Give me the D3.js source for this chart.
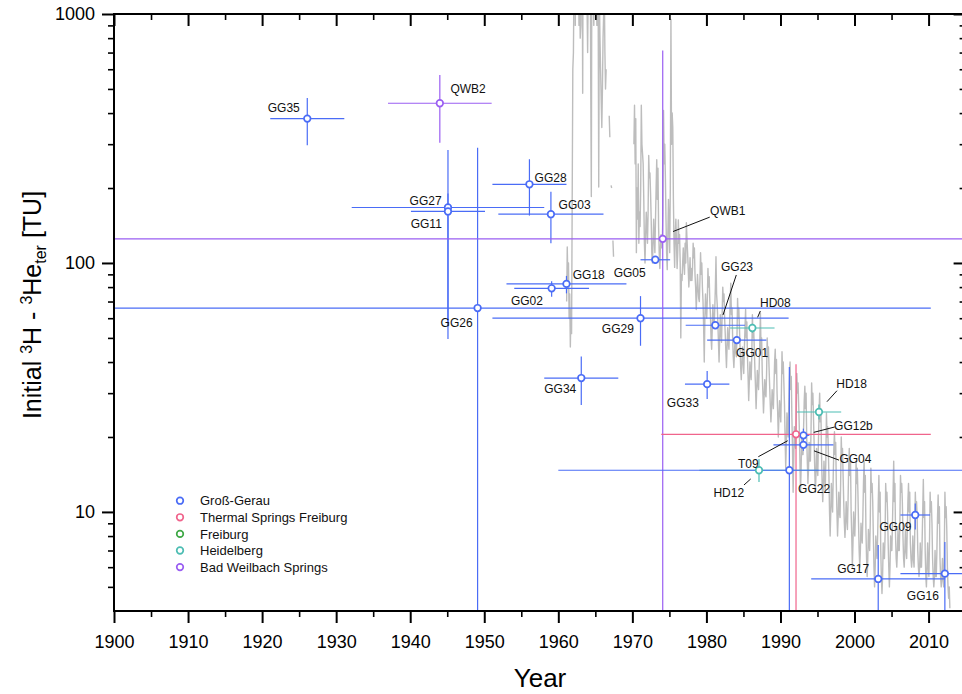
<!DOCTYPE html>
<html>
<head>
<meta charset="utf-8">
<script src="https://cdn.jsdelivr.net/npm/d3@7"></script>
<style>
  body { margin: 0; background: #fff; }
  svg { display: block; font-family: "Liberation Sans", Arial, Helvetica, sans-serif; }
  text { white-space: pre; }
</style>
</head>
<body>
<svg id="chart" width="962" height="694"></svg>
<script>
// ---- Groundwater samples: apparent year of recharge and initial tritium ----
const sampleNames  = ["GG35","QWB2","GG27","GG11","GG26","GG28","GG03","QWB1","GG05","GG18","GG02","GG29","GG34",
                      "GG23","HD08","GG01","GG33","HD18","GG12b","T09","GG04","HD12","GG22","GG09","GG17","GG16"];
const sampleGroups = [0,4,0,0,0,0,0,4,0,0,0,0,0,
                      0,3,0,0,3,0,1,0,3,0,0,0,0];
const sampleYears  = [1926.1,1944.0,1945.1,1945.1,1949.1,1956.1,1959.0,1974.1,1973.1,1961.1,1959.1,1971.1,1963.1,
                      1981.2,1986.2,1984.1,1980.1,1995.2,1993.1,1992.1,1993.1,1987.1,1991.2,2008.2,2003.2,2012.2];
const sampleValues = [380,438,167,161,65.9,207,157,125,103,82.4,79.1,60.0,34.5,
                      56.2,54.8,49.0,32.6,25.2,20.3,20.5,18.6,14.7,14.7,9.72,5.38,5.65];
// half-width of the age uncertainty (years)
const yearErrors   = [5,7,13,5,61.2,5,7.1,80,2,8.1,5.05,20,5,
                      4,3,4,3,3,0.8,18.2,4.05,8.05,31.2,2,9.05,6];
// lower / upper bound of the tritium uncertainty (TU)
const valueLow     = [297,304,49.5,56,1,155,120,1,99,75.5,73.2,46.5,26.9,
                      54.5,52.5,47.5,28.4,23.5,19.2,1,17.6,13.2,1,8.5,1,1];
const valueHigh    = [460,569,284,190,290,261,193,713,106.5,88.7,84.4,73.6,42.1,
                      58,57,50.6,36.8,27.0,21.6,39.2,19.6,16.3,38.2,10.8,7.37,7.58];

const groupNames  = ["Groß-Gerau","Thermal Springs Freiburg","Freiburg","Heidelberg","Bad Weilbach Springs"];
const groupColors = ["#4a6cf6","#f0648c","#3fa846","#4dbdb3","#9a5ef2"];

// ---- Tritium in precipitation: monthly values per year (TU), null = no record ----
const precipYears = [1961,1962,1963,1964,1965,1966,1967,1968,1969,1970,1971,1972,1973,1974,1975,1976,1977,1978,1979,
                     1980,1981,1982,1983,1984,1985,1986,1987,1988,1989,1990,1991,1992,1993,1994,1995,1996,1997,1998,
                     1999,2000,2001,2002,2003,2004,2005,2006,2007,2008,2009,2010,2011,2012];
const precipTritium = [
  [null,70,116,85,100,60,75,46,65,52,180,600],
  [700,1500,2200,900,3000,1800,2600,1100,1500,900,1200,800],
  [900,1500,2500,480,4000,5000,3500,4200,2400,1500,1100,700],
  [1300,2000,3000,2800,560,185,2500,1800,1200,900,1200,1100],
  [1500,1200,900,1100,1300,202,1200,800,600,450,350,500],
  [800,1000,1300,700,500,600,null,null,null,null,390,320],
  [null,205,200,null,123,106,null,null,null,null,null,null],
  [null,null,null,null,null,null,null,null,null,null,null,null],
  [null,null,null,null,null,null,null,null,null,null,null,null],
  [null,null,300,430,250,380,110,200,150,250,120,160],
  [140,200,430,300,275,250,180,120,100,130,160,140],
  [120,160,270,220,230,190,150,110,100,120,150,125],
  [110,150,200,260,180,240,140,110,95,115,130,115],
  [120,160,410,250,300,222,150,110,94,130,180,140],
  [110,200,950,300,400,350,179,120,96,130,150,120],
  [95,110,149,120,130,100,50,90,85,100,115,100],
  [90,120,100,145,125,110,95,80,90,105,85,95],
  [85,95,120,105,115,90,80,65,75,90,80,72],
  [70,85,110,90,100,80,70,55,40,60,75,65],
  [60,72,95,80,88,70,62,50,45,55,68,58],
  [55,65,80,106,75,68,58,48,40,50,62,52],
  [48,62,80,70,75,60,52,44,38,46,55,48],
  [45,55,70,83,62,66,50,42,38,44,50,44],
  [42,50,72,60,66,55,46,38,34,40,46,40],
  [36,45,55,65,50,58,42,35,28,33,40,36],
  [34,42,62,50,55,46,38,32,26,31,37,33],
  [31,38,48,63,45,50,36,30,25,29,34,30],
  [29,36,50,42,46,38,32,27,23,26,31,28],
  [26,32,40,45,36,41,30,25,20,24,28,25],
  [23,30,44,36,40,33,27,20,15,19,25,22],
  [20,27,34,40,31,35,24,18,12,16,22,19],
  [18,24,36,30,33,27,22,16,12,15,20,17],
  [17,22,28,32,26,30,20,16,13,15,19,16],
  [16,21,33,27,30,24,19,15,12,14,18,15],
  [14,19,25,30,23,26,17,13,11,13,16,14],
  [12,16,25,20,22,18,14,10,8,10,13,11],
  [10,14,18,21,17,19,13,10,8,9.5,12,10],
  [9.5,13,20,16,18,14,11,9,7.9,9,11,9.5],
  [8.5,11,15,18,14,16,10,8,6,7.5,10,8.5],
  [8,10,16,13,15,12,9,7,6,7,9,8],
  [7.5,9.5,13,16,12,14,8.5,6.5,5.5,6.5,8.5,7.5],
  [7,9,15,12,13,11,8,6,5,6,8,7],
  [6.5,8,11,14,10,12,7,5.5,4.7,5.5,7.5,6.5],
  [6.5,8,13,11,12,10,7.5,6,5,6,8,7],
  [7,9,12,16,11,13,8,6.5,6,7,8.5,7],
  [7,9,14,12,13,11,8,6.5,6,7,8.5,7],
  [6.5,8.5,11,13,10,12,7.5,6.5,6,6.5,8,6.5],
  [6,8,12,10,11,9.5,7,6,5.5,6,7.5,6],
  [6,7.5,10,13.5,9.5,11,7,5.5,5,6,7.5,6],
  [5.5,7.5,12,10,11,9,6.5,5.5,5,5.5,7,5.5],
  [5.5,7,9.5,11.7,9,10.5,6.5,5.5,5,5.5,6.5,5.3],
  [5,7,12,9.5,10.5,8.5,6,5,4.5,5,4.1,null]
];

// ---- Axis ticks ----
const xMajorTicks = [1900,1910,1920,1930,1940,1950,1960,1970,1980,1990,2000,2010];
const xMinorTicks = [1905,1915,1925,1935,1945,1955,1965,1975,1985,1995,2005];
const yMajorTicks = [10,100,1000];
const yMinorTicks = [5,6,7,8,9,20,30,40,50,60,70,80,90,200,300,400,500,600,700,800,900];

// ---- Label placement (pixel offsets from the marker) and leader lines ----
const labelOffsets = {
  GG35:[-23.5,-10.7], QWB2:[28.3,-14.3], GG27:[-22.4,-7.3], GG11:[-21.7,12.2], GG26:[-21,14.2],
  GG28:[21.2,-7.1], GG03:[23.7,-9.6], QWB1:[65,-28.5], GG05:[-25.6,12.8], GG18:[22.3,-9.3],
  GG02:[-24.7,12.7], GG29:[-22.7,10.9], GG34:[-21,10.7], GG23:[21.7,-58.6], HD08:[23,-25.3],
  GG01:[15.3,12.5], GG33:[-24.3,18.9], HD18:[32.6,-28.2], GG12b:[50,-9.5], T09:[-47.7,29.5],
  GG04:[52,13.5], HD12:[-30.2,22.5], GG22:[24.7,18.4], GG09:[-19.7,11.2], GG17:[-25,-10.2], GG16:[-22,21.8]
};
const leaderLines = {
  QWB1:[10.3,-7.3,47,-21.7], GG23:[7.7,-10.3,21,-50.3], HD08:[5.3,-10.7,8,-17],
  HD18:[8,-10.3,18,-21.3], GG12b:[10.3,-3,31.3,-8.4], GG04:[10.6,6,35.6,15.3],
  T09:[-8.3,6.4,-37.7,22.4], HD12:[-8.3,8.7,-15,14.7]
};

// ---- Layout ----
const plot = { left: 114, right: 965.6, top: 14, bottom: 611 };
const x = d3.scaleLinear().domain([1900, 2015]).range([plot.left, plot.right]);
const y = d3.scaleLog().domain([4, 1000]).range([plot.bottom, plot.top]);

const svg = d3.select("#chart");

svg.append("defs").append("clipPath").attr("id", "plotClip")
  .append("rect")
  .attr("x", plot.left).attr("y", plot.top)
  .attr("width", plot.right - plot.left).attr("height", plot.bottom - plot.top);

const area = svg.append("g").attr("clip-path", "url(#plotClip)");

// precipitation record
const precipPoints = [];
precipYears.forEach((yr, i) => {
  precipTritium[i].forEach((v, m) => precipPoints.push({ t: yr + (m + 0.5) / 12, v }));
});
const precipLine = d3.line()
  .defined(d => d.v != null)
  .x(d => x(d.t))
  .y(d => y(d.v));
area.append("path")
  .datum(precipPoints)
  .attr("d", precipLine)
  .attr("fill", "none")
  .attr("stroke", "#bdbdbd")
  .attr("stroke-width", 1.4)
  .attr("stroke-linejoin", "round");

// samples
const samples = sampleNames.map((name, i) => ({
  name, group: sampleGroups[i], year: sampleYears[i], value: sampleValues[i],
  xe: yearErrors[i], lo: valueLow[i], hi: valueHigh[i]
}));

const bars = area.append("g").attr("class", "error-bars");
samples.forEach(d => {
  const c = groupColors[d.group];
  bars.append("line")
    .attr("x1", x(d.year - d.xe)).attr("x2", x(d.year + d.xe))
    .attr("y1", y(d.value)).attr("y2", y(d.value))
    .attr("stroke", c).attr("stroke-width", 1.2);
  bars.append("line")
    .attr("x1", x(d.year)).attr("x2", x(d.year))
    .attr("y1", y(d.lo)).attr("y2", y(d.hi))
    .attr("stroke", c).attr("stroke-width", 1.2);
});

area.append("g").attr("class", "markers")
  .selectAll("circle").data(samples).join("circle")
  .attr("cx", d => x(d.year)).attr("cy", d => y(d.value))
  .attr("r", 3.3)
  .attr("fill", "#fff")
  .attr("stroke", d => groupColors[d.group])
  .attr("stroke-width", 1.7);

// labels and leader lines
const labels = svg.append("g").attr("class", "labels");
samples.forEach(d => {
  const px = x(d.year), py = y(d.value);
  const off = labelOffsets[d.name];
  labels.append("text")
    .attr("x", px + off[0]).attr("y", py + off[1])
    .attr("dy", "0.36em")
    .attr("text-anchor", "middle")
    .attr("font-size", 12)
    .attr("fill", "#111")
    .text(d.name);
  const ln = leaderLines[d.name];
  if (ln) {
    labels.append("line")
      .attr("x1", px + ln[0]).attr("y1", py + ln[1])
      .attr("x2", px + ln[2]).attr("y2", py + ln[3])
      .attr("stroke", "#111").attr("stroke-width", 1);
  }
});

// ---- Axes ----
function styleAxis(g, width) {
  g.select(".domain").remove();
  g.selectAll(".tick line").attr("stroke", "#000").attr("stroke-width", width);
  g.selectAll(".tick text").attr("fill", "#000").attr("font-family", "Liberation Sans, Arial, sans-serif");
}

// bottom
svg.append("g").attr("transform", `translate(0,${plot.bottom})`)
  .call(d3.axisBottom(x).tickValues(xMajorTicks).tickSize(12).tickPadding(12).tickFormat(d3.format("d")))
  .call(g => { styleAxis(g, 2); g.selectAll("text").attr("font-size", 18); });
svg.append("g").attr("transform", `translate(0,${plot.bottom})`)
  .call(d3.axisBottom(x).tickValues(xMinorTicks).tickSize(6).tickFormat(""))
  .call(g => styleAxis(g, 1.6));
// top
svg.append("g").attr("transform", `translate(0,${plot.top})`)
  .call(d3.axisTop(x).tickValues(xMajorTicks).tickSize(-12).tickFormat(""))
  .call(g => styleAxis(g, 2));
svg.append("g").attr("transform", `translate(0,${plot.top})`)
  .call(d3.axisTop(x).tickValues(xMinorTicks).tickSize(-6).tickFormat(""))
  .call(g => styleAxis(g, 1.6));
// left
svg.append("g").attr("transform", `translate(${plot.left},0)`)
  .call(d3.axisLeft(y).tickValues(yMajorTicks).tickSize(12).tickPadding(7).tickFormat(d3.format("d")))
  .call(g => { styleAxis(g, 2); g.selectAll("text").attr("font-size", 18); });
svg.append("g").attr("transform", `translate(${plot.left},0)`)
  .call(d3.axisLeft(y).tickValues(yMinorTicks).tickSize(6).tickFormat(""))
  .call(g => styleAxis(g, 1.6));
// right
svg.append("g").attr("transform", `translate(${plot.right},0)`)
  .call(d3.axisRight(y).tickValues(yMajorTicks).tickSize(-12).tickFormat(""))
  .call(g => styleAxis(g, 2));
svg.append("g").attr("transform", `translate(${plot.right},0)`)
  .call(d3.axisRight(y).tickValues(yMinorTicks).tickSize(-6).tickFormat(""))
  .call(g => styleAxis(g, 1.6));

// frame
svg.append("rect")
  .attr("x", plot.left).attr("y", plot.top)
  .attr("width", plot.right - plot.left).attr("height", plot.bottom - plot.top)
  .attr("fill", "none").attr("stroke", "#000").attr("stroke-width", 2);

// axis titles
svg.append("text")
  .attr("x", (plot.left + 962) / 2 + 2).attr("y", 687)
  .attr("text-anchor", "middle").attr("font-size", 26).attr("fill", "#000")
  .text("Year");

const yTitle = svg.append("text")
  .attr("transform", "translate(41,305) rotate(-90)")
  .attr("text-anchor", "middle").attr("font-size", 25).attr("fill", "#000");
yTitle.append("tspan").text("Initial ");
yTitle.append("tspan").attr("dy", -9).attr("font-size", 16).text("3");
yTitle.append("tspan").attr("dy", 9).text("H - ");
yTitle.append("tspan").attr("dy", -9).attr("font-size", 16).text("3");
yTitle.append("tspan").attr("dy", 9).text("He");
yTitle.append("tspan").attr("dy", 5).attr("font-size", 16).text("ter");
yTitle.append("tspan").attr("dy", -5).text(" [TU]");

// ---- Legend ----
const legend = svg.append("g").attr("class", "legend");
groupNames.forEach((name, i) => {
  const ly = 500.7 + i * 16.6;
  legend.append("circle")
    .attr("cx", 180).attr("cy", ly).attr("r", 3.3)
    .attr("fill", "#fff").attr("stroke", groupColors[i]).attr("stroke-width", 1.7);
  legend.append("text")
    .attr("x", 200).attr("y", ly).attr("dy", "0.36em")
    .attr("font-size", 13).attr("fill", "#111")
    .text(name);
});
</script>
</body>
</html>
